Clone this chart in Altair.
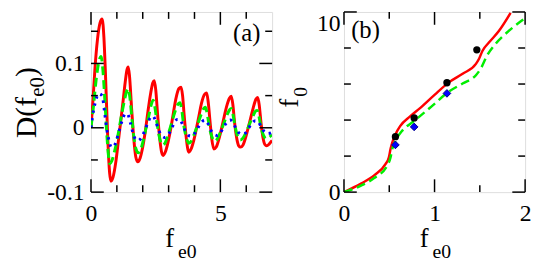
import altair as alt
import pandas as pd

# ---------------- Panel (a) data ----------------
a_red_x = [0.00, 0.08, 0.15, 0.25, 0.35, 0.43, 0.50, 0.56, 0.65, 0.72, 0.77, 0.85, 0.96, 1.06, 1.15, 1.25, 1.32, 1.39, 1.44, 1.49, 1.57, 1.65, 1.73, 1.81, 1.90, 2.00, 2.10, 2.20, 2.30, 2.39, 2.445, 2.50, 2.58, 2.66, 2.73, 2.79, 2.88, 2.98, 3.08, 3.18, 3.28, 3.40, 3.48, 3.54, 3.60, 3.68, 3.74, 3.78, 3.87, 3.97, 4.07, 4.17, 4.27, 4.39, 4.47, 4.53, 4.60, 4.67, 4.75, 4.84, 4.94, 5.04, 5.14, 5.24, 5.35, 5.42, 5.48, 5.55, 5.64, 5.71, 5.78, 5.87, 5.97, 6.07, 6.17, 6.27, 6.37, 6.44, 6.50, 6.57, 6.65, 6.72, 6.79, 6.87, 6.95, 7.00]
a_red_y = [0.000, 0.045, 0.090, 0.137, 0.163, 0.169, 0.140, 0.083, -0.018, -0.070, -0.083, -0.077, -0.053, -0.020, 0.010, 0.045, 0.070, 0.090, 0.0945, 0.080, 0.030, -0.015, -0.045, -0.053, -0.047, -0.030, -0.005, 0.025, 0.052, 0.070, 0.073, 0.060, 0.018, -0.018, -0.038, -0.043, -0.037, -0.022, -0.002, 0.022, 0.045, 0.061, 0.063, 0.050, 0.020, -0.015, -0.033, -0.038, -0.033, -0.020, -0.002, 0.018, 0.038, 0.052, 0.054, 0.040, 0.010, -0.018, -0.033, -0.030, -0.018, -0.002, 0.016, 0.033, 0.046, 0.049, 0.037, 0.008, -0.018, -0.028, -0.030, -0.027, -0.016, -0.001, 0.015, 0.031, 0.044, 0.047, 0.036, 0.008, -0.016, -0.026, -0.028, -0.026, -0.022, -0.020]

a_green_x = [0.00, 0.10, 0.20, 0.30, 0.39, 0.46, 0.54, 0.62, 0.68, 0.73, 0.80, 0.92, 1.04, 1.16, 1.28, 1.38, 1.44, 1.50, 1.58, 1.66, 1.74, 1.83, 1.93, 2.03, 2.13, 2.23, 2.33, 2.40, 2.47, 2.55, 2.63, 2.70, 2.77, 2.87, 2.97, 3.07, 3.17, 3.27, 3.37, 3.44, 3.50, 3.57, 3.65, 3.72, 3.78, 3.87, 3.97, 4.07, 4.17, 4.27, 4.36, 4.42, 4.48, 4.56, 4.64, 4.71, 4.77, 4.87, 4.97, 5.07, 5.17, 5.27, 5.36, 5.42, 5.48, 5.56, 5.64, 5.71, 5.77, 5.87, 5.97, 6.07, 6.17, 6.27, 6.36, 6.42, 6.48, 6.56, 6.64, 6.71, 6.77, 6.87, 7.00]
a_green_y = [0.000, 0.035, 0.075, 0.102, 0.111, 0.090, 0.040, -0.015, -0.045, -0.056, -0.052, -0.035, -0.012, 0.015, 0.040, 0.057, 0.061, 0.048, 0.015, -0.015, -0.033, -0.039, -0.033, -0.018, 0.000, 0.018, 0.036, 0.043, 0.032, 0.008, -0.012, -0.023, -0.027, -0.023, -0.012, 0.001, 0.015, 0.028, 0.037, 0.039, 0.030, 0.008, -0.010, -0.020, -0.024, -0.021, -0.012, -0.001, 0.011, 0.022, 0.030, 0.032, 0.024, 0.005, -0.010, -0.018, -0.021, -0.018, -0.010, 0.000, 0.011, 0.021, 0.028, 0.030, 0.022, 0.004, -0.010, -0.017, -0.019, -0.016, -0.009, 0.000, 0.010, 0.019, 0.026, 0.027, 0.020, 0.003, -0.009, -0.015, -0.017, -0.015, -0.011]

a_blue_x = [0.00, 0.05, 0.17, 0.30, 0.43, 0.52, 0.62, 0.70, 0.78, 0.88, 0.98, 1.10, 1.22, 1.33, 1.42, 1.52, 1.62, 1.72, 1.82, 1.92, 2.05, 2.18, 2.30, 2.40, 2.50, 2.62, 2.75, 2.85, 2.95, 3.07, 3.20, 3.33, 3.43, 3.53, 3.65, 3.77, 3.90, 4.02, 4.15, 4.28, 4.40, 4.50, 4.62, 4.75, 4.88, 5.00, 5.12, 5.25, 5.38, 5.48, 5.60, 5.72, 5.85, 5.98, 6.10, 6.22, 6.35, 6.45, 6.57, 6.70, 6.82, 6.95, 7.00]
a_blue_y = [0.000, 0.015, 0.040, 0.053, 0.050, 0.026, -0.005, -0.020, -0.030, -0.029, -0.020, -0.003, 0.013, 0.022, 0.021, 0.008, -0.008, -0.018, -0.020, -0.017, -0.007, 0.006, 0.016, 0.018, 0.010, -0.004, -0.013, -0.015, -0.013, -0.005, 0.006, 0.013, 0.013, 0.006, -0.005, -0.012, -0.013, -0.008, 0.001, 0.009, 0.012, 0.008, -0.003, -0.010, -0.012, -0.008, 0.001, 0.008, 0.012, 0.009, -0.001, -0.008, -0.010, -0.008, 0.000, 0.007, 0.011, 0.010, 0.002, -0.006, -0.009, -0.008, -0.007]

a_x_domain = [0, 7]
a_y_domain = [-0.1, 0.18]
a_x_major = [0, 5]
a_x_minor = [1, 2, 3, 4, 6]
a_y_major = [-0.1, 0, 0.1]
a_y_minor = [-0.05, 0.05, 0.15]
a_x_labels = ["0", "5"]
a_y_labels = ["-0.1", "0", "0.1"]

# ---------------- Panel (b) data ----------------
b_red_x = [0.00, 0.188, 0.333, 0.46, 0.496, 0.514, 0.533, 0.568, 0.62, 0.73, 0.84, 1.00, 1.166, 1.31, 1.457, 1.49, 1.53, 1.60, 1.71, 1.84]
b_red_y = [0.00, 0.47, 0.93, 1.57, 1.93, 2.39, 2.75, 3.20, 3.66, 4.20, 4.66, 5.40, 6.12, 6.57, 7.12, 7.39, 7.85, 8.30, 8.94, 9.95]

b_green_x = [0.00, 0.188, 0.333, 0.478, 0.514, 0.533, 0.568, 0.64, 0.77, 1.00, 1.13, 1.31, 1.457, 1.51, 1.58, 1.67, 1.82, 1.98]
b_green_y = [0.00, 0.36, 0.78, 1.48, 1.93, 2.39, 2.84, 3.39, 3.93, 4.90, 5.48, 6.03, 6.49, 6.85, 7.58, 8.21, 8.95, 9.58]

b_circle_x = [0.568, 0.775, 1.137, 1.467]
b_circle_y = [3.08, 4.12, 6.07, 7.90]
b_diamond_x = [0.568, 0.775, 1.137]
b_diamond_y = [2.62, 3.62, 5.48]

b_x_domain = [0, 2]
b_y_domain = [0, 10]
b_x_major = [0, 1, 2]
b_x_minor = [0.5, 1.5]
b_y_major = [0, 10]
b_y_minor = [2, 4, 6, 8]
b_x_labels = ["0", "1", "2"]
b_y_labels = ["0", "10"]

W, H = 184, 183
FONT = "Liberation Serif, Times New Roman, Times, DejaVu Serif, serif"
MAJ, MIN = 13, 7


def label_expr(values, labels):
    expr = "''"
    for v, s in reversed(list(zip(values, labels))):
        expr = f"abs(datum.value - ({v})) < 1e-9 ? '{s}' : ({expr})"
    return expr


def axis(values, labels, pad, top_value=None):
    kw = dict(values=values, labelExpr=label_expr(values, labels), ticks=False,
              domain=False, grid=False, title=None, labelPadding=pad,
              labelFont=FONT, labelFontSize=24, labelColor="black",
              labelFlush=False, labelOverlap=False)
    if top_value is not None:
        # keep the top-most label fully inside the picture
        kw["labelOffset"] = {"condition": {"test": f"datum.value == {top_value}", "value": 12}, "value": 0}
    return alt.Axis(**kw)


def panel(series, points, xdom, ydom, xmaj, xmin, ymaj, ymin, xlab, ylab, ylabpad, texts, top_value=None):
    xs = alt.Scale(domain=xdom, nice=False, zero=False)
    ys = alt.Scale(domain=ydom, nice=False, zero=False)
    ax = axis(xmaj, xlab, 10)
    ay = axis(ymaj, ylab, ylabpad, top_value)
    X = lambda f: alt.X(f"{f}:Q", scale=xs, axis=ax)
    Y = lambda f: alt.Y(f"{f}:Q", scale=ys, axis=ay)
    layers = []
    for xv, yv, color, width, dash in series:
        df = pd.DataFrame({"x": xv, "y": yv})
        mk = dict(color=color, strokeWidth=width, interpolate="monotone", clip=True)
        if dash:
            mk["strokeDash"] = dash
        layers.append(alt.Chart(df).mark_line(**mk).encode(x=X("x"), y=Y("y")))
    for xv, yv, kind in points:
        df = pd.DataFrame({"x": xv, "y": yv})
        if kind == "circle":
            m = alt.Chart(df).mark_point(shape="circle", filled=True, size=55, color="black", opacity=1)
        else:
            m = alt.Chart(df).mark_point(shape="diamond", filled=True, size=60, fill="#0000ff",
                                         stroke="#00008b", strokeWidth=1, opacity=1)
        layers.append(m.encode(x=X("x"), y=Y("y")))
    # tick marks (inward) on all four sides
    for vals, ln in ((xmaj, MAJ), (xmin, MIN)):
        df = pd.DataFrame({"v": vals})
        layers.append(alt.Chart(df).mark_rule(color="black", strokeWidth=1.5).encode(
            x=X("v"), y=alt.value(H), y2=alt.value(H - ln)))
        layers.append(alt.Chart(df).mark_rule(color="black", strokeWidth=1.5).encode(
            x=X("v"), y=alt.value(0), y2=alt.value(ln)))
    for vals, ln in ((ymaj, MAJ), (ymin, MIN)):
        df = pd.DataFrame({"v": vals})
        layers.append(alt.Chart(df).mark_rule(color="black", strokeWidth=1.5).encode(
            y=Y("v"), x=alt.value(0), x2=alt.value(ln)))
        layers.append(alt.Chart(df).mark_rule(color="black", strokeWidth=1.5).encode(
            y=Y("v"), x=alt.value(W), x2=alt.value(W - ln)))
    for t, x, y, size, angle in texts:
        df = pd.DataFrame({"t": [t]})
        kw = dict(font=FONT, fontSize=size, align="left", baseline="alphabetic", color="black")
        if angle:
            kw["angle"] = angle
        layers.append(alt.Chart(df).mark_text(**kw).encode(
            text="t:N", x=alt.value(x), y=alt.value(y)))
    return alt.layer(*layers).properties(width=W, height=H)


# text pieces: (text, x, y, fontsize, angle) relative to each panel's plot origin
a_texts = [
    ("D(f", -55.7, 128, 30, 270),
    ("e0", -47.7, 86, 21, 270),
    (")", -55.7, 66, 30, 270),
    ("f", 75.5, 239, 27, 0),
    ("e0", 88.5, 250, 20, 0),
    ("(a)", 144.3, 29, 25, 0),
]
b_texts = [
    ("f", -46.7, 97, 27, 270),
    ("0", -37.7, 86, 20, 270),
    ("f", 77, 239, 27, 0),
    ("e0", 90, 250, 20, 0),
    ("(b)", 7.3, 26, 25, 0),
]

pa = panel([(a_red_x, a_red_y, "#ff0000", 3, None),
            (a_green_x, a_green_y, "#00ee00", 3, [9, 5]),
            (a_blue_x, a_blue_y, "#0000ff", 3, [2.5, 5])],
           [], a_x_domain, a_y_domain, a_x_major, a_x_minor, a_y_major, a_y_minor,
           a_x_labels, a_y_labels, 7, a_texts)
pb = panel([(b_red_x, b_red_y, "#ff0000", 2.5, None),
            (b_green_x, b_green_y, "#00ee00", 2.5, [9, 5])],
           [(b_circle_x, b_circle_y, "circle"), (b_diamond_x, b_diamond_y, "diamond")],
           b_x_domain, b_y_domain, b_x_major, b_x_minor, b_y_major, b_y_minor,
           b_x_labels, b_y_labels, 4, b_texts, top_value=b_y_domain[1])

chart = alt.hconcat(pa, pb, spacing=73, bounds="flush").properties(
    padding={"left": 3.3, "top": 0, "right": 0, "bottom": 0}
).configure_view(stroke="black", strokeWidth=2).configure(background="white")

chart.save("out.html", embed_options={"renderer": "svg", "actions": False})
